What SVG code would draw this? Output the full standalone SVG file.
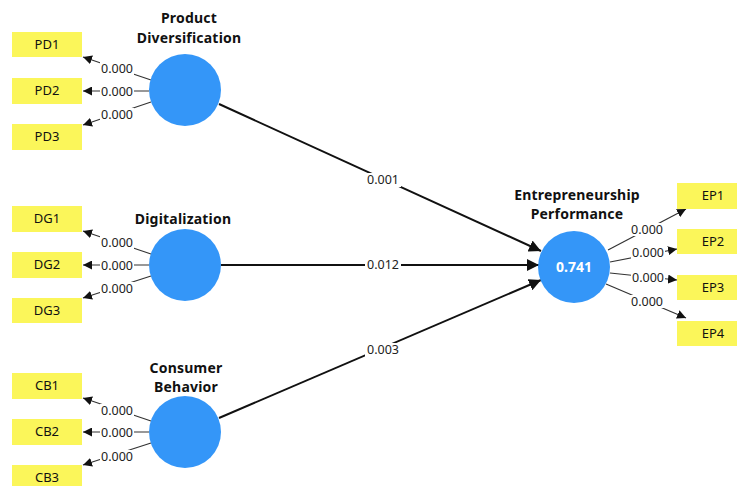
<svg xmlns="http://www.w3.org/2000/svg" width="737" height="486" viewBox="0 0 737 486">
<style>
.ind rect{fill:#fbf65a}
.ind text{font-family:"Noto Sans","DejaVu Sans",sans-serif;font-size:13px;fill:#111;text-anchor:middle}
.lv circle{fill:#3496f8}
.ttl{font-family:"Noto Sans","DejaVu Sans",sans-serif;font-size:14px;font-weight:bold;fill:#111;text-anchor:middle;letter-spacing:0.2px}
.r2{font-family:"Noto Sans","DejaVu Sans",sans-serif;font-size:14px;font-weight:bold;fill:#fff;text-anchor:middle}
.ol{stroke:#333;stroke-width:1.2;fill:none;marker-end:url(#a)}
.sp{stroke:#111;stroke-width:2;fill:none;marker-end:url(#b)}
.lb{font-family:"Noto Sans","DejaVu Sans",sans-serif;font-size:12.5px;fill:#222;text-anchor:middle}
.bg{fill:#fff}
</style>
<defs>
<marker id="a" viewBox="0 0 10 10" refX="10" refY="5" markerWidth="9" markerHeight="9" markerUnits="userSpaceOnUse" orient="auto"><path d="M0,0L10,5L0,10z" fill="#111"/></marker>
<marker id="b" viewBox="0 0 10 10" refX="10" refY="5" markerWidth="12" markerHeight="12" markerUnits="userSpaceOnUse" orient="auto"><path d="M0,0L10,5L0,10z" fill="#111"/></marker>
</defs>
<rect width="737" height="486" fill="#fff"/>
<g id="connectors">
<path class="ol" d="M151,80L83,57"/>
<path class="ol" d="M149,91L83,91"/>
<path class="ol" d="M151,102L83,125"/>
<path class="ol" d="M151,254L83,231"/>
<path class="ol" d="M149,265L83,265"/>
<path class="ol" d="M151,276L83,298"/>
<path class="ol" d="M151,421L83,398"/>
<path class="ol" d="M149,432L83,432"/>
<path class="ol" d="M151,443L83,465"/>
<path class="ol" d="M608,250L686,209"/>
<path class="ol" d="M610,262L677,249"/>
<path class="ol" d="M610,273L677,280"/>
<path class="ol" d="M606,284L686,318"/>
<path class="sp" d="M219,104L541,251"/>
<path class="sp" d="M221,265L539,265"/>
<path class="sp" d="M219,418L541,280"/>
<g>
<rect class="bg" x="100" y="62" width="34" height="13"/><text class="lb" x="117" y="73">0.000</text>
<rect class="bg" x="100" y="85" width="34" height="13"/><text class="lb" x="117" y="96">0.000</text>
<rect class="bg" x="100" y="108" width="34" height="13"/><text class="lb" x="117" y="119">0.000</text>
<rect class="bg" x="100" y="236" width="34" height="13"/><text class="lb" x="117" y="247">0.000</text>
<rect class="bg" x="100" y="259" width="34" height="13"/><text class="lb" x="117" y="270">0.000</text>
<rect class="bg" x="100" y="282" width="34" height="13"/><text class="lb" x="117" y="293">0.000</text>
<rect class="bg" x="100" y="404" width="34" height="13"/><text class="lb" x="117" y="415">0.000</text>
<rect class="bg" x="100" y="426" width="34" height="13"/><text class="lb" x="117" y="437">0.000</text>
<rect class="bg" x="100" y="450" width="34" height="13"/><text class="lb" x="117" y="461">0.000</text>
<rect class="bg" x="630" y="223" width="34" height="13"/><text class="lb" x="647" y="234">0.000</text>
<rect class="bg" x="631" y="246" width="34" height="13"/><text class="lb" x="648" y="257">0.000</text>
<rect class="bg" x="631" y="271" width="34" height="13"/><text class="lb" x="648" y="282">0.000</text>
<rect class="bg" x="630" y="295" width="34" height="13"/><text class="lb" x="647" y="306">0.000</text>
<rect class="bg" x="365" y="173" width="36" height="14"/><text class="lb" x="383" y="184">0.001</text>
<rect class="bg" x="365" y="258" width="36" height="14"/><text class="lb" x="383" y="269">0.012</text>
<rect class="bg" x="365" y="343" width="36" height="14"/><text class="lb" x="383" y="354">0.003</text>
</g>
</g>
<g id="PD" class="lv"><circle cx="185" cy="90" r="36"/><text class="ttl" x="189" y="23">Product</text><text class="ttl" x="189" y="43">Diversification</text></g>
<g id="DG" class="lv"><circle cx="185" cy="265" r="36"/><text class="ttl" x="183" y="224">Digitalization</text></g>
<g id="CB" class="lv"><circle cx="185" cy="432" r="36"/><text class="ttl" x="186" y="373">Consumer</text><text class="ttl" x="186" y="392">Behavior</text></g>
<g id="EP" class="lv"><circle cx="574" cy="267" r="36"/><text class="r2" x="574" y="272">0.741</text><text class="ttl" x="577" y="200">Entrepreneurship</text><text class="ttl" x="577" y="219">Performance</text></g>
<g id="PD1" class="ind"><rect x="12" y="32" width="70" height="25"/><text x="47" y="49">PD1</text></g>
<g id="PD2" class="ind"><rect x="12" y="78" width="70" height="26"/><text x="47" y="95">PD2</text></g>
<g id="PD3" class="ind"><rect x="12" y="124" width="70" height="26"/><text x="47" y="141">PD3</text></g>
<g id="DG1" class="ind"><rect x="12" y="206" width="70" height="26"/><text x="47" y="223">DG1</text></g>
<g id="DG2" class="ind"><rect x="12" y="252" width="70" height="26"/><text x="47" y="269">DG2</text></g>
<g id="DG3" class="ind"><rect x="12" y="298" width="70" height="25"/><text x="47" y="315">DG3</text></g>
<g id="CB1" class="ind"><rect x="12" y="373" width="70" height="26"/><text x="47" y="390">CB1</text></g>
<g id="CB2" class="ind"><rect x="12" y="419" width="70" height="26"/><text x="47" y="436">CB2</text></g>
<g id="CB3" class="ind"><rect x="12" y="465" width="70" height="26"/><text x="47" y="482">CB3</text></g>
<g id="EP1" class="ind"><rect x="677" y="183" width="70" height="26"/><text x="713" y="200">EP1</text></g>
<g id="EP2" class="ind"><rect x="677" y="229" width="70" height="25"/><text x="713" y="246">EP2</text></g>
<g id="EP3" class="ind"><rect x="677" y="275" width="70" height="25"/><text x="713" y="292">EP3</text></g>
<g id="EP4" class="ind"><rect x="677" y="321" width="70" height="25"/><text x="713" y="338">EP4</text></g>
</svg>
